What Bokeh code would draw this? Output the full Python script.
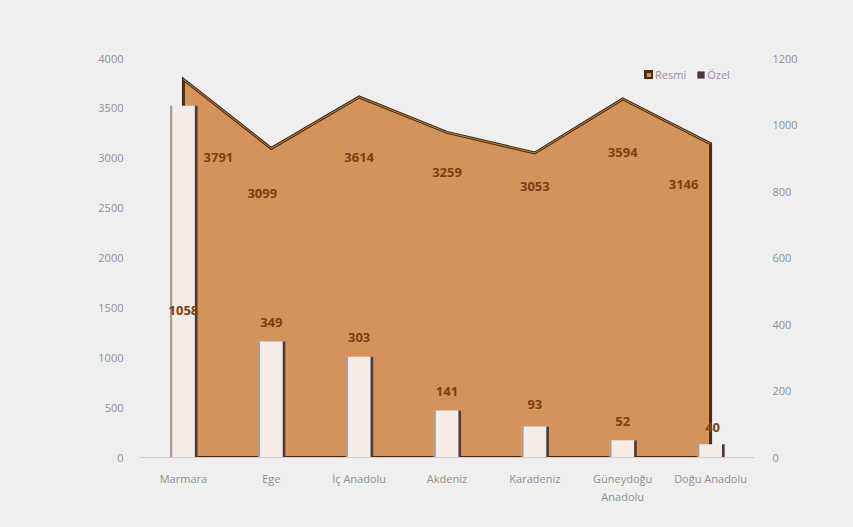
from bokeh.plotting import figure
from bokeh.models import (ColumnDataSource, Range1d, FactorRange, LinearAxis,
                          FixedTicker, Legend, LegendItem)
from bokeh.transform import dodge
from bokeh.core.properties import value
from bokeh.embed import file_html
from bokeh.resources import INLINE

# ---- data ----
regions = ["Marmara", "Ege", "İç Anadolu", "Akdeniz", "Karadeniz",
           "Güneydoğu\nAnadolu", "Doğu Anadolu"]
resmi = [3791, 3099, 3614, 3259, 3053, 3594, 3146]
ozel = [1058, 349, 303, 141, 93, 52, 40]
left_ticks = [0, 500, 1000, 1500, 2000, 2500, 3000, 3500, 4000]
right_ticks = [0, 200, 400, 600, 800, 1000, 1200]

# ---- label offsets (screen px) ----
resmi_dx = [35, -9, 0, 0, 0, 0, -27]
resmi_dy = [78, 45, 60, 40, 34, 54, 41]
ozel_dx = [0, 0, 0, 0, 0, 0, 2]
ozel_dy = [205, -19, -19, -19, -22, -19, -17]

BG = "#efefef"
AREA = "#d4935a"
DARK = "#4a2c10"
LBL = "#7b3f12"
AX = "#8f8f8f"

p = figure(width=837, height=511, x_range=FactorRange(*regions, range_padding=0),
           y_range=Range1d(0, 4000), output_backend="svg", toolbar_location=None,
           min_border_left=139, min_border_right=83, min_border_top=58,
           min_border_bottom=54)
p.background_fill_color = BG
p.border_fill_color = BG
p.outline_line_color = None
p.xgrid.grid_line_color = None
p.ygrid.grid_line_color = None
p.extra_y_ranges = {"right": Range1d(0, 1200)}

# area (Resmi)
xs = regions + [regions[-1], regions[0]]
ys = resmi + [0, 0]
area = p.patch(x=xs, y=ys, fill_color=AREA, line_color=DARK, line_width=3,
               line_join="miter")
p.line(x=regions, y=resmi, line_color="#b98550", line_width=1)

# bars (Özel)
src = ColumnDataSource(dict(x=regions, top=ozel, rdx=resmi_dx, rdy=resmi_dy,
                            odx=ozel_dx, ody=ozel_dy, resmi=resmi,
                            rt=[str(v) for v in resmi], ot=[str(v) for v in ozel]))
bars = p.vbar(x="x", top="top", width=0.3, source=src, y_range_name="right",
              fill_color="#f6ece7", line_color=None)
p.vbar(x=dodge("x", -0.14, range=p.x_range), top="top", width=0.025, source=src,
       y_range_name="right", fill_color="#a49a9a", line_color=None)
edge = p.vbar(x=dodge("x", 0.145, range=p.x_range), top="top", width=0.03,
              source=src, y_range_name="right", fill_color="#4a3a3a",
              line_color=None)

# labels
p.text(x="x", y="resmi", text="rt", source=src, x_offset="rdx", y_offset="rdy",
       text_align="center", text_baseline="middle", text_color=LBL,
       text_font=value("Open Sans"), text_font_style="bold", text_font_size="13px")
p.text(x="x", y="top", text="ot", source=src, x_offset="odx", y_offset="ody",
       y_range_name="right", text_align="center", text_baseline="middle",
       text_color=LBL, text_font=value("Open Sans"), text_font_style="bold",
       text_font_size="13px")

# axes
ya = p.yaxis[0]
ya.ticker = FixedTicker(ticks=left_ticks)
ya.axis_line_color = None
ya.major_tick_line_color = None
ya.minor_tick_line_color = None
ya.major_label_text_color = AX
ya.major_label_text_font = "Open Sans"
ya.major_label_text_font_size = "11px"
ya.major_label_standoff = 10

ra = LinearAxis(y_range_name="right", ticker=FixedTicker(ticks=right_ticks))
ra.axis_line_color = None
ra.major_tick_line_color = None
ra.minor_tick_line_color = None
ra.major_label_text_color = AX
ra.major_label_text_font = "Open Sans"
ra.major_label_text_font_size = "11px"
ra.major_label_standoff = 12
p.add_layout(ra, "right")

xa = p.xaxis[0]
xa.axis_line_color = "#cfcfcf"
xa.major_tick_line_color = None
xa.minor_tick_line_color = None
xa.major_label_text_color = AX
xa.major_label_text_font = "Open Sans"
xa.major_label_text_font_size = "11px"
xa.major_label_standoff = 7

legend = Legend(items=[LegendItem(label="Resmi", renderers=[area]),
                       LegendItem(label="Özel", renderers=[edge])],
                orientation="horizontal", location=(505, 375),
                background_fill_alpha=0, border_line_color=None,
                label_text_color="#9a8fa8", label_text_font="Open Sans",
                label_text_font_size="11px", glyph_width=9, glyph_height=9,
                label_standoff=2, spacing=10, padding=2)
p.add_layout(legend, "center")

html = file_html(p, INLINE)
html = html.replace("<head>", "<head><style>body{background:#efefef;}</style>", 1)
open("out.html", "w").write(html)
